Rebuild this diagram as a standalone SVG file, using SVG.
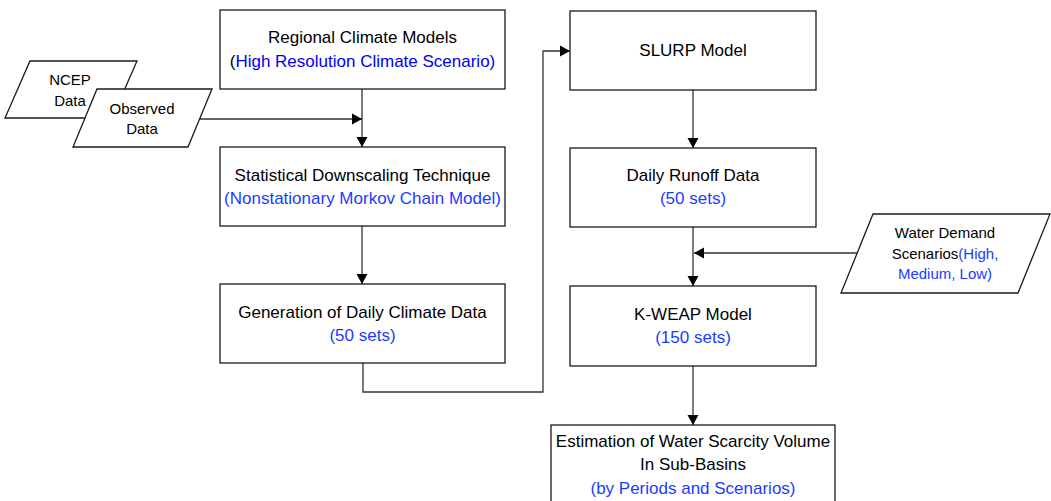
<svg xmlns="http://www.w3.org/2000/svg" width="1051" height="501" viewBox="0 0 1051 501">
<style>
.box{fill:#fff;stroke:#1a1a1a;stroke-width:1.3}
.ln{fill:none;stroke:#333;stroke-width:1.3}
text{font-family:"Liberation Sans",Arial,sans-serif;font-size:17px;fill:#000;text-anchor:middle}
.s{font-size:15px}
.b{fill:#1a3cff}
.b0{fill:#0000ee}
</style>
<defs>
<marker id="ah" markerUnits="userSpaceOnUse" markerWidth="12" markerHeight="12" refX="10" refY="6" orient="auto">
<path d="M0,0.5 L10,6 L0,11.5 Z" fill="#000"/>
</marker>
</defs>
<rect width="1051" height="501" fill="#fff"/>
<g id="connectors">
<line class="ln" x1="362" y1="89" x2="362" y2="147" marker-end="url(#ah)"/>
<line class="ln" x1="200" y1="119" x2="362" y2="119" marker-end="url(#ah)"/>
<line class="ln" x1="362" y1="226" x2="362" y2="284" marker-end="url(#ah)"/>
<polyline class="ln" points="363,363 363,392 543,392 543,51 570,51" marker-end="url(#ah)"/>
<line class="ln" x1="693" y1="90" x2="693" y2="148" marker-end="url(#ah)"/>
<line class="ln" x1="693" y1="227" x2="693" y2="286" marker-end="url(#ah)"/>
<line class="ln" x1="857" y1="253" x2="694" y2="253" marker-end="url(#ah)"/>
<line class="ln" x1="693" y1="366" x2="693" y2="425" marker-end="url(#ah)"/>
</g>
<g id="rcm">
<rect class="box" x="220" y="10" width="285" height="79"/>
<text x="362.5" y="43">Regional Climate Models</text>
<text x="362.5" y="67"><tspan>(</tspan><tspan class="b0">High Resolution Climate Scenario)</tspan></text>
</g>
<g id="ncep">
<polygon class="box" points="30,61 137,61 112,118 5,118"/>
<text x="70" y="85" class="s">NCEP</text>
<text x="70" y="106" class="s">Data</text>
</g>
<g id="observed">
<polygon class="box" points="97,89 212,89 188,147 73,147"/>
<text class="s" x="142" y="114">Observed</text>
<text class="s" x="142" y="134">Data</text>
</g>
<g id="sdt">
<rect class="box" x="220" y="147" width="285" height="79"/>
<text x="362.5" y="181">Statistical Downscaling Technique</text>
<text x="362.5" y="204" class="b">(Nonstationary Morkov Chain Model)</text>
</g>
<g id="gen">
<rect class="box" x="220" y="284" width="285" height="79"/>
<text x="362.5" y="318">Generation of Daily Climate Data</text>
<text x="362.5" y="341" class="b">(50 sets)</text>
</g>
<g id="slurp">
<rect class="box" x="570" y="11" width="246" height="79"/>
<text x="693" y="56">SLURP Model</text>
</g>
<g id="runoff">
<rect class="box" x="570" y="148" width="246" height="79"/>
<text x="693" y="181">Daily Runoff Data</text>
<text x="693" y="204" class="b">(50 sets)</text>
</g>
<g id="demand">
<polygon class="box" points="873,214 1050,214 1018,293 841,293"/>
<text class="s" x="945" y="238">Water Demand</text>
<text class="s" x="945" y="259">Scenarios<tspan class="b">(High,</tspan></text>
<text class="s b" x="945" y="279">Medium, Low)</text>
</g>
<g id="kweap">
<rect class="box" x="570" y="286" width="246" height="80"/>
<text x="693" y="320">K-WEAP Model</text>
<text x="693" y="343" class="b">(150 sets)</text>
</g>
<g id="estimation">
<rect class="box" x="551" y="425" width="284" height="90"/>
<text x="693" y="447">Estimation of Water Scarcity Volume</text>
<text x="693" y="470">In Sub-Basins</text>
<text x="693" y="494" class="b">(by Periods and Scenarios)</text>
</g>
</svg>
